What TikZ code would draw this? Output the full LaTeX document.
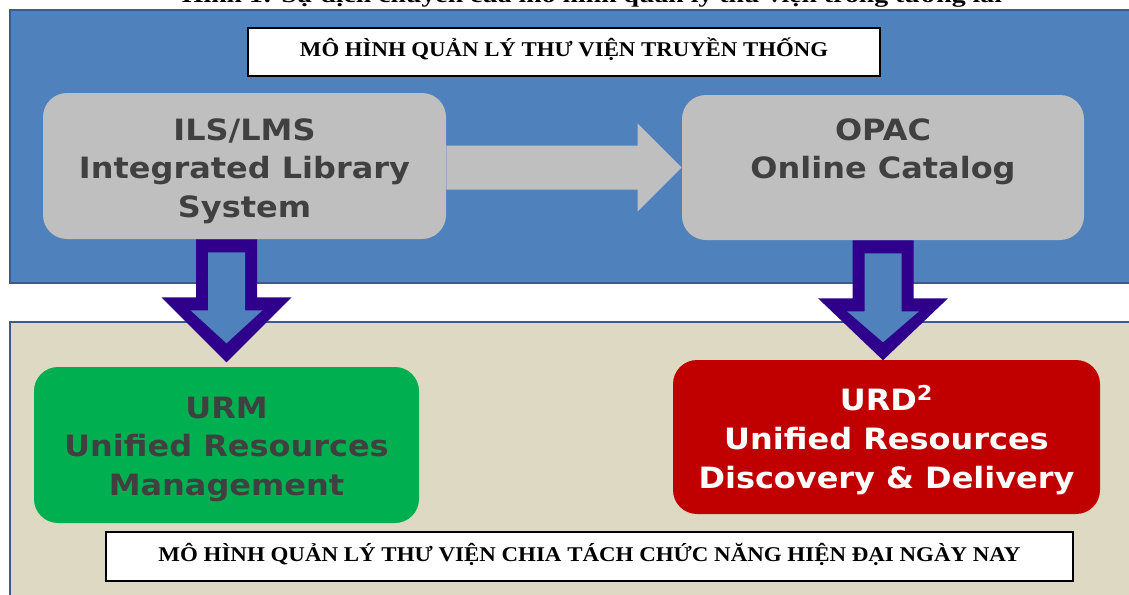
\documentclass[tikz,border=0pt]{standalone}
\usepackage{fontspec}
\setmainfont{Liberation Serif}
\newfontfamily\boxfont{DejaVu Sans}
\usetikzlibrary{fit,calc}

\definecolor{panelblue}{HTML}{4F81BD}
\definecolor{paneledge}{HTML}{385D8A}
\definecolor{panelbeige}{HTML}{DDD9C3}
\definecolor{boxgray}{HTML}{BFBFBF}
\definecolor{textgray}{HTML}{404040}
\definecolor{urmgreen}{HTML}{00B050}
\definecolor{urdred}{HTML}{C00000}
\definecolor{arrowpurple}{HTML}{2E008B}

% squeeze a line of text to a given width, keeping its height
\newcommand\fitwidth[2]{\resizebox{#1}{\height}{#2}}

\begin{document}
\begin{tikzpicture}[x=0.75pt,y=-0.75pt,
  panel/.style={draw=paneledge, line width=1.9pt, inner sep=0pt},
  header/.style={draw=black, line width=0.9pt, fill=white, inner sep=0pt},
  headtext/.style={font=\bfseries\fontsize{15.75}{18}\selectfont, anchor=base, inner sep=0pt},
  softbox/.style={rounded corners=18pt, inner sep=0pt},
  boxtext/.style={font=\boxfont\bfseries\fontsize{22}{28.9}\selectfont, align=center,
    inner sep=0pt, xscale=1.09, transform shape},
  blockedge/.style={fill=arrowpurple},
  blockfill/.style={fill=panelblue}
]
\clip (0,0) rectangle (1129,594);
\fill[white] (0,0) rectangle (1129,594);

% caption line above the figure
\node[font=\bfseries\fontsize{16.5}{19}\selectfont, anchor=base, inner sep=0pt] (title) at (592,2.5)
  {\fitwidth{615pt}{Hình 1: Sự dịch chuyển của mô hình quản lý thư viện trong tương lai}};

% the two background panels
\node[panel, fill=panelblue, fit={(10,10) (1150,283)}] (oldpanel) {};
\node[panel, fill=panelbeige, fit={(10,322) (1150,620)}] (newpanel) {};

% panel headings
\node[header, fit={(248,28) (880,76)}] (oldhead) {};
\node[headtext] (oldheadtext) at (564,56) {\fitwidth{396pt}{MÔ HÌNH QUẢN LÝ THƯ VIỆN TRUYỀN THỐNG}};
\node[header, fit={(106,532) (1073,581)}] (newhead) {};
\node[headtext] (newheadtext) at (589.5,561) {\fitwidth{646.5pt}{MÔ HÌNH QUẢN LÝ THƯ VIỆN CHIA TÁCH CHỨC NĂNG HIỆN ĐẠI NGÀY NAY}};

% traditional model
\node[softbox, fill=boxgray, fit={(43,93) (446,239)}] (ils) {};
\node[boxtext, text=textgray] (ilstext) at (244.5,171) {ILS/LMS\\Integrated Library\\System};
\node[softbox, fill=boxgray, fit={(682,95) (1084,240)}] (opac) {};
\node[boxtext, text=textgray] (opactext) at (883,152) {OPAC\\Online Catalog};

% gray block arrow from ILS to OPAC
\fill[boxgray] (ils.east |- opac.west) ++(0,-22)
  -- ($(opac.west)+(-44,-22)$) -- ++(0,-22) -- (opac.west) -- ++(-44,44) -- ++(0,-22)
  -- ($(ils.east |- opac.west)+(0,22)$) -- cycle;

% modern model
\node[softbox, fill=urmgreen, fit={(34,367) (419,523)}] (urm) {};
\node[boxtext, text=textgray] (urmtext) at ($(urm.center)+(0,4)$) {URM\\Unified Resources\\Management};
\node[softbox, fill=urdred, fit={(673,360) (1100,514)}] (urd) {};
\node[boxtext, text=white] (urdtext) at ($(urd.center)+(0,3)$) {URD\textsuperscript{2}\\Unified Resources\\Discovery \& Delivery};

% outlined block arrows down into the modern model
\begin{scope}[shift={(ils.south -| urm.north)}]
  \fill[blockedge] (-30.5,0) -- (30.5,0) -- (30.5,58) -- (65,58) -- (0,123) -- (-65,58) -- (-30.5,58) -- cycle;
  \fill[blockfill] (-18.5,13) -- (18.5,13) -- (18.5,71) -- (36,71) -- (0,104) -- (-36,71) -- (-18.5,71) -- cycle;
\end{scope}
\begin{scope}[shift={(opac.south)}]
  \fill[blockedge] (-30.5,0) -- (30.5,0) -- (30.5,58) -- (65,58) -- (0,120) -- (-65,58) -- (-30.5,58) -- cycle;
  \fill[blockfill] (-18.5,13) -- (18.5,13) -- (18.5,71) -- (36,71) -- (0,102) -- (-36,71) -- (-18.5,71) -- cycle;
\end{scope}
\end{tikzpicture}
\end{document}
